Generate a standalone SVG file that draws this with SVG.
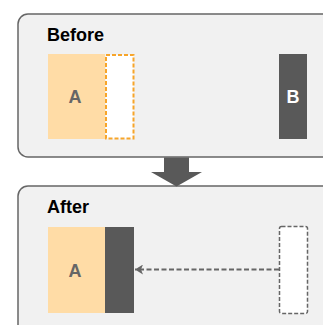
<svg xmlns="http://www.w3.org/2000/svg" width="323" height="325" viewBox="0 0 323 325">
<style>
.panel{fill:#f1f1f1;stroke:#666;stroke-width:1.5}
.title{font-family:"Liberation Sans",Arial,sans-serif;font-weight:bold;font-size:18px;fill:#000}
.lbl{font-family:"Liberation Sans",Arial,sans-serif;font-weight:bold;font-size:18px;text-anchor:middle}
.a{fill:#ffdca6}
.dark{fill:#595959}
</style>
<defs>
<marker id="ah" markerWidth="10" markerHeight="10" refX="8" refY="5" orient="auto" markerUnits="userSpaceOnUse">
<path d="M0,0 L8,5 L0,10 L2,5 Z" fill="#666"/>
</marker>
</defs>
<g id="before">
<rect class="panel" x="18" y="14" width="320" height="143" rx="10"/>
<text class="title" x="47" y="40.5">Before</text>
</g>
<g id="beforeA">
<rect class="a" x="48" y="54" width="57" height="85"/>
<text class="lbl" x="75" y="103" fill="#666">A</text>
</g>
<g id="beforeSlot">
<rect x="106" y="55" width="27.5" height="83.5" fill="#fff" stroke="#f7a52a" stroke-width="2" stroke-dasharray="4 2"/>
</g>
<g id="beforeB">
<rect class="dark" x="279" y="54" width="28" height="85"/>
<text class="lbl" x="293" y="103" fill="#fff">B</text>
</g>
<g id="after">
<rect class="panel" x="18" y="186" width="320" height="150" rx="10"/>
<text class="title" x="47" y="213">After</text>
</g>
<g id="afterA">
<rect class="a" x="48" y="227" width="57" height="86"/>
<text class="lbl" x="75" y="277" fill="#666">A</text>
</g>
<g id="afterB">
<rect class="dark" x="105" y="227" width="29" height="86"/>
</g>
<g id="afterSlot">
<rect x="279.5" y="226.5" width="28" height="87" rx="2" fill="#fff" stroke="#666" stroke-width="1.5" stroke-dasharray="4 2"/>
</g>
<g id="connectors">
<path d="M164,157.5 H189 V172 H202 L176.5,186.5 L151,172 H164 Z" fill="#595959"/>
<line x1="279" y1="269.5" x2="135" y2="269.5" stroke="#666" stroke-width="2" stroke-dasharray="5 2.5" marker-end="url(#ah)"/>
</g>
</svg>
